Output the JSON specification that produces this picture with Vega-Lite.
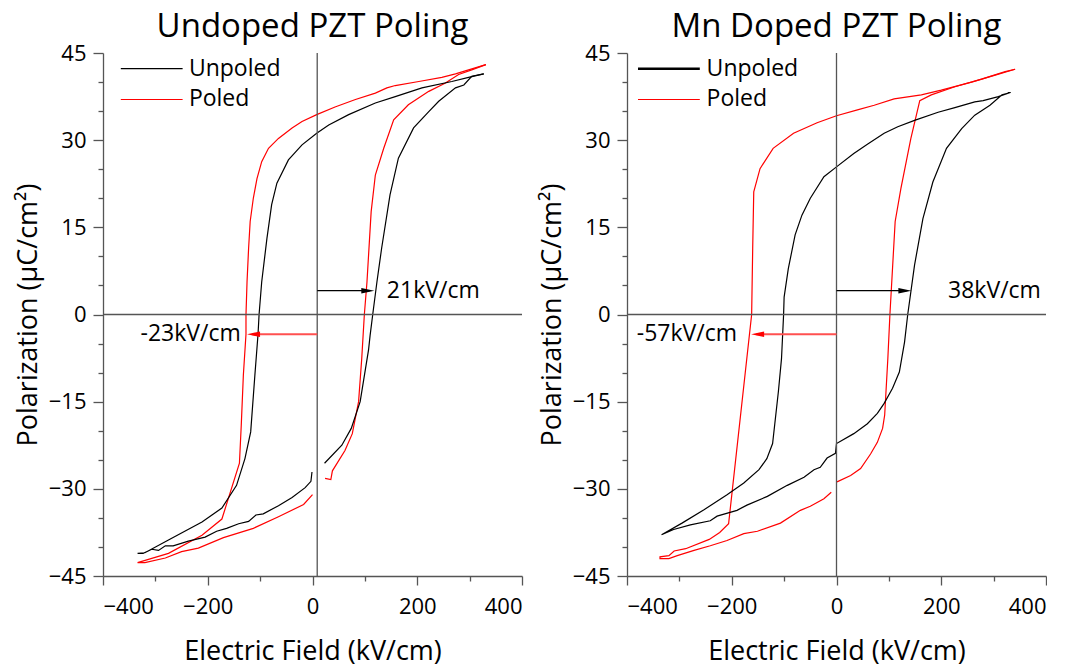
{
"$schema": "https://vega.github.io/schema/vega-lite/v6.json",
"padding": {"left": 14, "top": 11, "right": 0, "bottom": 0},
"spacing": 15,
"config": {
  "view": {"stroke": null},
  "font": "Open Sans",
  "axis": {"grid": false, "domainColor": "#555", "domainWidth": 1.3, "tickColor": "#555", "tickWidth": 1.3, "labelFont": "Open Sans", "labelFontSize": 22, "labelColor": "#000", "titleFont": "Open Sans", "titleFontSize": 27, "titleFontWeight": "normal", "titleColor": "#000", "labelOverlap": false},
  "axisX": {"labelPadding": 11, "titlePadding": 21},
  "axisY": {"labelPadding": 7, "titlePadding": 6},
  "title": {"font": "Open Sans", "fontSize": 33, "fontWeight": "normal", "color": "#000", "offset": -2}
},
"datasets": {
  "curves": [
    {"panel":"U","series":"Poled","seg":"a","o":1,"E":331,"P":43.0},
    {"panel":"U","series":"Poled","seg":"a","o":2,"E":298,"P":42.1},
    {"panel":"U","series":"Poled","seg":"a","o":3,"E":273,"P":41.4},
    {"panel":"U","series":"Poled","seg":"a","o":4,"E":247,"P":40.8},
    {"panel":"U","series":"Poled","seg":"a","o":5,"E":203,"P":40.1},
    {"panel":"U","series":"Poled","seg":"a","o":6,"E":158,"P":39.4},
    {"panel":"U","series":"Poled","seg":"a","o":7,"E":142,"P":39.0},
    {"panel":"U","series":"Poled","seg":"a","o":8,"E":120,"P":38.1},
    {"panel":"U","series":"Poled","seg":"a","o":9,"E":82,"P":37.0},
    {"panel":"U","series":"Poled","seg":"a","o":10,"E":43,"P":35.7},
    {"panel":"U","series":"Poled","seg":"a","o":11,"E":8,"P":34.4},
    {"panel":"U","series":"Poled","seg":"a","o":12,"E":-20,"P":33.2},
    {"panel":"U","series":"Poled","seg":"a","o":13,"E":-39,"P":32.1},
    {"panel":"U","series":"Poled","seg":"a","o":14,"E":-65,"P":30.3},
    {"panel":"U","series":"Poled","seg":"a","o":15,"E":-84,"P":28.6},
    {"panel":"U","series":"Poled","seg":"a","o":16,"E":-97,"P":26.3},
    {"panel":"U","series":"Poled","seg":"a","o":17,"E":-106,"P":23.4},
    {"panel":"U","series":"Poled","seg":"a","o":18,"E":-113,"P":20.0},
    {"panel":"U","series":"Poled","seg":"a","o":19,"E":-119,"P":16.0},
    {"panel":"U","series":"Poled","seg":"a","o":20,"E":-122,"P":11.4},
    {"panel":"U","series":"Poled","seg":"a","o":21,"E":-125,"P":5.6},
    {"panel":"U","series":"Poled","seg":"a","o":22,"E":-127,"P":0},
    {"panel":"U","series":"Poled","seg":"a","o":23,"E":-127,"P":-3.4},
    {"panel":"U","series":"Poled","seg":"a","o":24,"E":-132,"P":-10.4},
    {"panel":"U","series":"Poled","seg":"a","o":25,"E":-136,"P":-19},
    {"panel":"U","series":"Poled","seg":"a","o":26,"E":-139.5,"P":-25.6},
    {"panel":"U","series":"Poled","seg":"a","o":27,"E":-173,"P":-35.2},
    {"panel":"U","series":"Poled","seg":"a","o":28,"E":-211,"P":-38},
    {"panel":"U","series":"Poled","seg":"a","o":29,"E":-275,"P":-41.1},
    {"panel":"U","series":"Poled","seg":"a","o":30,"E":-334,"P":-42.7},
    {"panel":"U","series":"Poled","seg":"a","o":31,"E":-320,"P":-42.7},
    {"panel":"U","series":"Poled","seg":"a","o":32,"E":-281,"P":-41.9},
    {"panel":"U","series":"Poled","seg":"a","o":33,"E":-250,"P":-40.8},
    {"panel":"U","series":"Poled","seg":"a","o":34,"E":-218,"P":-40.2},
    {"panel":"U","series":"Poled","seg":"a","o":35,"E":-170,"P":-38.4},
    {"panel":"U","series":"Poled","seg":"a","o":36,"E":-113,"P":-36.8},
    {"panel":"U","series":"Poled","seg":"a","o":37,"E":-65,"P":-34.8},
    {"panel":"U","series":"Poled","seg":"a","o":38,"E":-17,"P":-32.7},
    {"panel":"U","series":"Poled","seg":"a","o":39,"E":0,"P":-31.0},
    {"panel":"U","series":"Poled","seg":"b","o":40,"E":24,"P":-28.2},
    {"panel":"U","series":"Poled","seg":"b","o":41,"E":35,"P":-28.4},
    {"panel":"U","series":"Poled","seg":"b","o":42,"E":38,"P":-26.9},
    {"panel":"U","series":"Poled","seg":"b","o":43,"E":62,"P":-23.4},
    {"panel":"U","series":"Poled","seg":"b","o":44,"E":76,"P":-20.5},
    {"panel":"U","series":"Poled","seg":"b","o":45,"E":88,"P":-15},
    {"panel":"U","series":"Poled","seg":"b","o":46,"E":94,"P":-7.6},
    {"panel":"U","series":"Poled","seg":"b","o":47,"E":99,"P":0},
    {"panel":"U","series":"Poled","seg":"b","o":48,"E":104,"P":5.6},
    {"panel":"U","series":"Poled","seg":"b","o":49,"E":112,"P":17.7},
    {"panel":"U","series":"Poled","seg":"b","o":50,"E":120,"P":24},
    {"panel":"U","series":"Poled","seg":"b","o":51,"E":136,"P":28.6},
    {"panel":"U","series":"Poled","seg":"b","o":52,"E":155,"P":33.5},
    {"panel":"U","series":"Poled","seg":"b","o":53,"E":183,"P":36.1},
    {"panel":"U","series":"Poled","seg":"b","o":54,"E":222,"P":38.4},
    {"panel":"U","series":"Poled","seg":"b","o":55,"E":253,"P":39.8},
    {"panel":"U","series":"Poled","seg":"b","o":56,"E":279,"P":41.3},
    {"panel":"U","series":"Poled","seg":"b","o":57,"E":304,"P":42.1},
    {"panel":"U","series":"Poled","seg":"b","o":58,"E":331,"P":43.0},

    {"panel":"U","series":"Unpoled","seg":"a","o":1,"E":327,"P":41.4},
    {"panel":"U","series":"Unpoled","seg":"a","o":2,"E":298,"P":40.8},
    {"panel":"U","series":"Unpoled","seg":"a","o":3,"E":266,"P":40.1},
    {"panel":"U","series":"Unpoled","seg":"a","o":4,"E":209,"P":39.0},
    {"panel":"U","series":"Unpoled","seg":"a","o":5,"E":158,"P":37.5},
    {"panel":"U","series":"Unpoled","seg":"a","o":6,"E":120,"P":36.4},
    {"panel":"U","series":"Unpoled","seg":"a","o":7,"E":69,"P":34.4},
    {"panel":"U","series":"Unpoled","seg":"a","o":8,"E":31,"P":32.6},
    {"panel":"U","series":"Unpoled","seg":"a","o":9,"E":8,"P":31.2},
    {"panel":"U","series":"Unpoled","seg":"a","o":10,"E":-20,"P":29.2},
    {"panel":"U","series":"Unpoled","seg":"a","o":11,"E":-46,"P":26.6},
    {"panel":"U","series":"Unpoled","seg":"a","o":12,"E":-68,"P":22.6},
    {"panel":"U","series":"Unpoled","seg":"a","o":13,"E":-78,"P":18.9},
    {"panel":"U","series":"Unpoled","seg":"a","o":14,"E":-87,"P":13.1},
    {"panel":"U","series":"Unpoled","seg":"a","o":15,"E":-97,"P":5.6},
    {"panel":"U","series":"Unpoled","seg":"a","o":16,"E":-102,"P":0},
    {"panel":"U","series":"Unpoled","seg":"a","o":17,"E":-104,"P":-3.4},
    {"panel":"U","series":"Unpoled","seg":"a","o":18,"E":-110,"P":-10.4},
    {"panel":"U","series":"Unpoled","seg":"a","o":19,"E":-118,"P":-20.2},
    {"panel":"U","series":"Unpoled","seg":"a","o":20,"E":-129,"P":-24.8},
    {"panel":"U","series":"Unpoled","seg":"a","o":21,"E":-145,"P":-29.4},
    {"panel":"U","series":"Unpoled","seg":"a","o":22,"E":-173,"P":-33.3},
    {"panel":"U","series":"Unpoled","seg":"a","o":23,"E":-211,"P":-35.7},
    {"panel":"U","series":"Unpoled","seg":"a","o":24,"E":-275,"P":-38.8},
    {"panel":"U","series":"Unpoled","seg":"a","o":25,"E":-320,"P":-41},
    {"panel":"U","series":"Unpoled","seg":"a","o":26,"E":-334,"P":-41.1},
    {"panel":"U","series":"Unpoled","seg":"a","o":27,"E":-323,"P":-41.1},
    {"panel":"U","series":"Unpoled","seg":"a","o":28,"E":-307,"P":-40.4},
    {"panel":"U","series":"Unpoled","seg":"a","o":29,"E":-294,"P":-40.6},
    {"panel":"U","series":"Unpoled","seg":"a","o":30,"E":-281,"P":-39.8},
    {"panel":"U","series":"Unpoled","seg":"a","o":31,"E":-266,"P":-39.8},
    {"panel":"U","series":"Unpoled","seg":"a","o":32,"E":-237,"P":-39},
    {"panel":"U","series":"Unpoled","seg":"a","o":33,"E":-205,"P":-38.3},
    {"panel":"U","series":"Unpoled","seg":"a","o":34,"E":-183,"P":-37.3},
    {"panel":"U","series":"Unpoled","seg":"a","o":35,"E":-164,"P":-36.8},
    {"panel":"U","series":"Unpoled","seg":"a","o":36,"E":-141,"P":-36},
    {"panel":"U","series":"Unpoled","seg":"a","o":37,"E":-122,"P":-35.6},
    {"panel":"U","series":"Unpoled","seg":"a","o":38,"E":-108,"P":-34.5},
    {"panel":"U","series":"Unpoled","seg":"a","o":39,"E":-94,"P":-34.3},
    {"panel":"U","series":"Unpoled","seg":"a","o":40,"E":-65,"P":-32.9},
    {"panel":"U","series":"Unpoled","seg":"a","o":41,"E":-39,"P":-31.5},
    {"panel":"U","series":"Unpoled","seg":"a","o":42,"E":-14,"P":-29.8},
    {"panel":"U","series":"Unpoled","seg":"a","o":43,"E":-3,"P":-28.7},
    {"panel":"U","series":"Unpoled","seg":"a","o":44,"E":-1,"P":-27.1},
    {"panel":"U","series":"Unpoled","seg":"b","o":45,"E":23,"P":-25.6},
    {"panel":"U","series":"Unpoled","seg":"b","o":46,"E":56,"P":-22.5},
    {"panel":"U","series":"Unpoled","seg":"b","o":47,"E":74,"P":-19.6},
    {"panel":"U","series":"Unpoled","seg":"b","o":48,"E":91,"P":-15},
    {"panel":"U","series":"Unpoled","seg":"b","o":49,"E":107,"P":-6.1},
    {"panel":"U","series":"Unpoled","seg":"b","o":50,"E":110,"P":-3.6},
    {"panel":"U","series":"Unpoled","seg":"b","o":51,"E":115,"P":0},
    {"panel":"U","series":"Unpoled","seg":"b","o":52,"E":123,"P":5.6},
    {"panel":"U","series":"Unpoled","seg":"b","o":53,"E":132,"P":11.4},
    {"panel":"U","series":"Unpoled","seg":"b","o":54,"E":148,"P":20.6},
    {"panel":"U","series":"Unpoled","seg":"b","o":55,"E":164,"P":26.9},
    {"panel":"U","series":"Unpoled","seg":"b","o":56,"E":193,"P":32.1},
    {"panel":"U","series":"Unpoled","seg":"b","o":57,"E":222,"P":34.9},
    {"panel":"U","series":"Unpoled","seg":"b","o":58,"E":241,"P":36.7},
    {"panel":"U","series":"Unpoled","seg":"b","o":59,"E":273,"P":39},
    {"panel":"U","series":"Unpoled","seg":"b","o":60,"E":289,"P":39.5},
    {"panel":"U","series":"Unpoled","seg":"b","o":61,"E":304,"P":41},
    {"panel":"U","series":"Unpoled","seg":"b","o":62,"E":327,"P":41.4},

    {"panel":"M","series":"Poled","seg":"a","o":1,"E":341,"P":42.2},
    {"panel":"M","series":"Poled","seg":"a","o":2,"E":303,"P":41.2},
    {"panel":"M","series":"Poled","seg":"a","o":3,"E":258,"P":40.0},
    {"panel":"M","series":"Poled","seg":"a","o":4,"E":200,"P":38.6},
    {"panel":"M","series":"Poled","seg":"a","o":5,"E":162,"P":37.8},
    {"panel":"M","series":"Poled","seg":"a","o":6,"E":110,"P":37.1},
    {"panel":"M","series":"Poled","seg":"a","o":7,"E":72,"P":36.0},
    {"panel":"M","series":"Poled","seg":"a","o":8,"E":40,"P":35.2},
    {"panel":"M","series":"Poled","seg":"a","o":9,"E":0,"P":34.2},
    {"panel":"M","series":"Poled","seg":"a","o":10,"E":-37,"P":33.0},
    {"panel":"M","series":"Poled","seg":"a","o":11,"E":-82,"P":31.2},
    {"panel":"M","series":"Poled","seg":"a","o":12,"E":-121,"P":28.6},
    {"panel":"M","series":"Poled","seg":"a","o":13,"E":-146,"P":25.1},
    {"panel":"M","series":"Poled","seg":"a","o":14,"E":-158,"P":21.1},
    {"panel":"M","series":"Poled","seg":"a","o":15,"E":-160,"P":11.4},
    {"panel":"M","series":"Poled","seg":"a","o":16,"E":-162,"P":0},
    {"panel":"M","series":"Poled","seg":"a","o":17,"E":-206,"P":-36},
    {"panel":"M","series":"Poled","seg":"a","o":18,"E":-223,"P":-37.5},
    {"panel":"M","series":"Poled","seg":"a","o":19,"E":-243,"P":-38.7},
    {"panel":"M","series":"Poled","seg":"a","o":20,"E":-288,"P":-40.3},
    {"panel":"M","series":"Poled","seg":"a","o":21,"E":-310,"P":-40.7},
    {"panel":"M","series":"Poled","seg":"a","o":22,"E":-320,"P":-41.5},
    {"panel":"M","series":"Poled","seg":"a","o":23,"E":-337,"P":-41.7},
    {"panel":"M","series":"Poled","seg":"a","o":24,"E":-337,"P":-42},
    {"panel":"M","series":"Poled","seg":"a","o":25,"E":-320,"P":-42},
    {"panel":"M","series":"Poled","seg":"a","o":26,"E":-304,"P":-41.5},
    {"panel":"M","series":"Poled","seg":"a","o":27,"E":-272,"P":-40.6},
    {"panel":"M","series":"Poled","seg":"a","o":28,"E":-241,"P":-39.8},
    {"panel":"M","series":"Poled","seg":"a","o":29,"E":-209,"P":-38.9},
    {"panel":"M","series":"Poled","seg":"a","o":30,"E":-177,"P":-37.7},
    {"panel":"M","series":"Poled","seg":"a","o":31,"E":-151,"P":-37.3},
    {"panel":"M","series":"Poled","seg":"a","o":32,"E":-107,"P":-35.9},
    {"panel":"M","series":"Poled","seg":"a","o":33,"E":-69,"P":-33.7},
    {"panel":"M","series":"Poled","seg":"a","o":34,"E":-50,"P":-33.0},
    {"panel":"M","series":"Poled","seg":"a","o":35,"E":-24,"P":-31.7},
    {"panel":"M","series":"Poled","seg":"a","o":36,"E":-10,"P":-30.6},
    {"panel":"M","series":"Poled","seg":"b","o":37,"E":1,"P":-28.8},
    {"panel":"M","series":"Poled","seg":"b","o":38,"E":27,"P":-27.7},
    {"panel":"M","series":"Poled","seg":"b","o":39,"E":46,"P":-26.5},
    {"panel":"M","series":"Poled","seg":"b","o":40,"E":65,"P":-24},
    {"panel":"M","series":"Poled","seg":"b","o":41,"E":78,"P":-22},
    {"panel":"M","series":"Poled","seg":"b","o":42,"E":88,"P":-19.6},
    {"panel":"M","series":"Poled","seg":"b","o":43,"E":92,"P":-17.3},
    {"panel":"M","series":"Poled","seg":"b","o":44,"E":98,"P":-7.6},
    {"panel":"M","series":"Poled","seg":"b","o":45,"E":102,"P":0},
    {"panel":"M","series":"Poled","seg":"b","o":46,"E":112,"P":16},
    {"panel":"M","series":"Poled","seg":"b","o":47,"E":123,"P":21.7},
    {"panel":"M","series":"Poled","seg":"b","o":48,"E":142,"P":30.3},
    {"panel":"M","series":"Poled","seg":"b","o":49,"E":159,"P":36.8},
    {"panel":"M","series":"Poled","seg":"b","o":50,"E":181,"P":37.8},
    {"panel":"M","series":"Poled","seg":"b","o":51,"E":226,"P":39.2},
    {"panel":"M","series":"Poled","seg":"b","o":52,"E":277,"P":40.5},
    {"panel":"M","series":"Poled","seg":"b","o":53,"E":322,"P":41.8},
    {"panel":"M","series":"Poled","seg":"b","o":54,"E":341,"P":42.2},

    {"panel":"M","series":"Unpoled","seg":"a","o":1,"E":332,"P":38.2},
    {"panel":"M","series":"Unpoled","seg":"a","o":2,"E":309,"P":37.5},
    {"panel":"M","series":"Unpoled","seg":"a","o":3,"E":280,"P":36.8},
    {"panel":"M","series":"Unpoled","seg":"a","o":4,"E":264,"P":36.6},
    {"panel":"M","series":"Unpoled","seg":"a","o":5,"E":226,"P":35.6},
    {"panel":"M","series":"Unpoled","seg":"a","o":6,"E":194,"P":34.8},
    {"panel":"M","series":"Unpoled","seg":"a","o":7,"E":149,"P":33.4},
    {"panel":"M","series":"Unpoled","seg":"a","o":8,"E":117,"P":32.3},
    {"panel":"M","series":"Unpoled","seg":"a","o":9,"E":91,"P":31.2},
    {"panel":"M","series":"Unpoled","seg":"a","o":10,"E":59,"P":29.3},
    {"panel":"M","series":"Unpoled","seg":"a","o":11,"E":33,"P":27.7},
    {"panel":"M","series":"Unpoled","seg":"a","o":12,"E":0,"P":25.4},
    {"panel":"M","series":"Unpoled","seg":"a","o":13,"E":-24,"P":23.7},
    {"panel":"M","series":"Unpoled","seg":"a","o":14,"E":-50,"P":20},
    {"panel":"M","series":"Unpoled","seg":"a","o":15,"E":-66,"P":17.1},
    {"panel":"M","series":"Unpoled","seg":"a","o":16,"E":-79,"P":13.7},
    {"panel":"M","series":"Unpoled","seg":"a","o":17,"E":-92,"P":7.9},
    {"panel":"M","series":"Unpoled","seg":"a","o":18,"E":-100,"P":3},
    {"panel":"M","series":"Unpoled","seg":"a","o":19,"E":-101,"P":0},
    {"panel":"M","series":"Unpoled","seg":"a","o":20,"E":-105,"P":-7.6},
    {"panel":"M","series":"Unpoled","seg":"a","o":21,"E":-111,"P":-13.3},
    {"panel":"M","series":"Unpoled","seg":"a","o":22,"E":-122,"P":-22.2},
    {"panel":"M","series":"Unpoled","seg":"a","o":23,"E":-133,"P":-24.8},
    {"panel":"M","series":"Unpoled","seg":"a","o":24,"E":-148,"P":-26.7},
    {"panel":"M","series":"Unpoled","seg":"a","o":25,"E":-177,"P":-29},
    {"panel":"M","series":"Unpoled","seg":"a","o":26,"E":-209,"P":-31},
    {"panel":"M","series":"Unpoled","seg":"a","o":27,"E":-253,"P":-33.6},
    {"panel":"M","series":"Unpoled","seg":"a","o":28,"E":-295,"P":-35.9},
    {"panel":"M","series":"Unpoled","seg":"a","o":29,"E":-334,"P":-37.9},
    {"panel":"M","series":"Unpoled","seg":"a","o":30,"E":-311,"P":-37},
    {"panel":"M","series":"Unpoled","seg":"a","o":31,"E":-279,"P":-36.2},
    {"panel":"M","series":"Unpoled","seg":"a","o":32,"E":-241,"P":-35.5},
    {"panel":"M","series":"Unpoled","seg":"a","o":33,"E":-228,"P":-34.7},
    {"panel":"M","series":"Unpoled","seg":"a","o":34,"E":-190,"P":-33.7},
    {"panel":"M","series":"Unpoled","seg":"a","o":35,"E":-171,"P":-32.8},
    {"panel":"M","series":"Unpoled","seg":"a","o":36,"E":-132,"P":-31.3},
    {"panel":"M","series":"Unpoled","seg":"a","o":37,"E":-94,"P":-29.4},
    {"panel":"M","series":"Unpoled","seg":"a","o":38,"E":-62,"P":-28},
    {"panel":"M","series":"Unpoled","seg":"a","o":39,"E":-43,"P":-26.7},
    {"panel":"M","series":"Unpoled","seg":"a","o":40,"E":-31,"P":-26.3},
    {"panel":"M","series":"Unpoled","seg":"a","o":41,"E":-18,"P":-24.7},
    {"panel":"M","series":"Unpoled","seg":"a","o":42,"E":-2,"P":-23.9},
    {"panel":"M","series":"Unpoled","seg":"a","o":43,"E":0,"P":-22.2},
    {"panel":"M","series":"Unpoled","seg":"a","o":44,"E":33,"P":-20.5},
    {"panel":"M","series":"Unpoled","seg":"a","o":45,"E":59,"P":-18.8},
    {"panel":"M","series":"Unpoled","seg":"a","o":46,"E":78,"P":-17.0},
    {"panel":"M","series":"Unpoled","seg":"a","o":47,"E":91,"P":-15.3},
    {"panel":"M","series":"Unpoled","seg":"a","o":48,"E":107,"P":-12.7},
    {"panel":"M","series":"Unpoled","seg":"a","o":49,"E":120,"P":-9.9},
    {"panel":"M","series":"Unpoled","seg":"a","o":50,"E":130,"P":-4.7},
    {"panel":"M","series":"Unpoled","seg":"a","o":51,"E":136,"P":0},
    {"panel":"M","series":"Unpoled","seg":"a","o":52,"E":149,"P":8.5},
    {"panel":"M","series":"Unpoled","seg":"a","o":53,"E":165,"P":16.5},
    {"panel":"M","series":"Unpoled","seg":"a","o":54,"E":184,"P":22.8},
    {"panel":"M","series":"Unpoled","seg":"a","o":55,"E":210,"P":28.6},
    {"panel":"M","series":"Unpoled","seg":"a","o":56,"E":239,"P":32.0},
    {"panel":"M","series":"Unpoled","seg":"a","o":57,"E":264,"P":34.3},
    {"panel":"M","series":"Unpoled","seg":"a","o":58,"E":293,"P":36.0},
    {"panel":"M","series":"Unpoled","seg":"a","o":59,"E":316,"P":37.8},
    {"panel":"M","series":"Unpoled","seg":"a","o":60,"E":332,"P":38.2}
  ],
  "refs": [
    {"panel":"U","E":9,"P":0},
    {"panel":"M","E":0,"P":0}
  ],
  "arrows": [
    {"panel":"U","c":"#000000","w":1.3,"E":9,"E2":110,"P":4.1,"tip":118,"dir":"R"},
    {"panel":"U","c":"#ff5050","w":2,"E":9,"E2":-115,"P":-3.4,"tip":-125,"dir":"L"},
    {"panel":"M","c":"#000000","w":1.3,"E":0,"E2":135,"P":4.1,"tip":143,"dir":"R"},
    {"panel":"M","c":"#ff5050","w":2,"E":0,"E2":-153,"P":-3.4,"tip":-163,"dir":"L"}
  ],
  "labels": [
    {"panel":"U","E":142,"P":4.1,"align":"L","text":"21kV/cm"},
    {"panel":"U","E":-137,"P":-3.4,"align":"R","text":"-23kV/cm"},
    {"panel":"U","E":-236,"P":42.3,"align":"L","text":"Unpoled"},
    {"panel":"U","E":-236,"P":37.1,"align":"L","text":"Poled"},
    {"panel":"M","E":213,"P":4.1,"align":"L","text":"38kV/cm"},
    {"panel":"M","E":-190,"P":-3.4,"align":"R","text":"-57kV/cm"},
    {"panel":"M","E":-248,"P":42.3,"align":"L","text":"Unpoled"},
    {"panel":"M","E":-248,"P":37.1,"align":"L","text":"Poled"}
  ],
  "legend": [
    {"panel":"U","series":"Unpoled","w":1.2,"E":-366,"E2":-248,"P":42.3},
    {"panel":"U","series":"Poled","w":1.2,"E":-366,"E2":-248,"P":37.0},
    {"panel":"M","series":"Unpoled","w":2.6,"E":-379,"E2":-261,"P":42.3},
    {"panel":"M","series":"Poled","w":1.2,"E":-379,"E2":-261,"P":37.0}
  ]
},
"hconcat": [
  {
    "title": {"text": "Undoped PZT Poling"},
    "width": 419, "height": 523,
    "resolve": {"axis": {"x": "independent", "y": "independent"}},
    "layer": [
      {
        "data": {"name": "curves"},
        "transform": [{"filter": "datum.panel === 'U'"}],
        "mark": {"type": "line", "strokeWidth": 1.2},
        "encoding": {
          "x": {"field": "E", "type": "quantitative", "scale": {"domain": [-400, 400], "nice": false, "zero": false},
                "axis": {"title": "Electric Field (kV/cm)", "orient": "bottom", "values": [-400,-200,0,200,400], "tickSize": 9}},
          "y": {"field": "P", "type": "quantitative", "scale": {"domain": [-45, 45], "nice": false, "zero": false},
                "axis": {"title": "Polarization (μC/cm²)", "orient": "left", "values": [-45,-30,-15,0,15,30,45], "tickSize": 10}},
          "color": {"field": "series", "type": "nominal", "scale": {"domain": ["Unpoled", "Poled"], "range": ["#000000", "#ff0000"]}, "legend": null},
          "detail": {"field": "seg"},
          "order": {"field": "o", "type": "quantitative"}
        }
      },
      {
        "data": {"name": "refs"},
        "transform": [{"filter": "datum.panel === 'U'"}],
        "mark": {"type": "rule", "color": "#555", "strokeWidth": 1.3},
        "encoding": {"x": {"field": "E", "type": "quantitative", "axis": {"title": null, "orient": "bottom", "labels": false, "domain": false, "values": [-300,-100,100,300], "tickSize": 5}}}
      },
      {
        "data": {"name": "refs"},
        "transform": [{"filter": "datum.panel === 'U'"}],
        "mark": {"type": "rule", "color": "#555", "strokeWidth": 1.3},
        "encoding": {"y": {"field": "P", "type": "quantitative", "axis": {"title": null, "orient": "left", "labels": false, "domain": false, "values": [-40,-35,-25,-20,-10,-5,5,10,20,25,35,40], "tickSize": 5}}}
      },
      {
        "data": {"name": "arrows"},
        "transform": [{"filter": "datum.panel === 'U'"}],
        "mark": {"type": "rule"},
        "encoding": {
          "x": {"field": "E", "type": "quantitative", "axis": null}, "x2": {"field": "E2"},
          "y": {"field": "P", "type": "quantitative", "axis": null},
          "color": {"field": "c", "type": "nominal", "scale": null},
          "strokeWidth": {"field": "w", "type": "quantitative", "scale": null}
        }
      },
      {
        "data": {"name": "arrows"},
        "transform": [{"filter": "datum.panel === 'U' && datum.dir === 'R'"}],
        "mark": {"type": "point", "shape": "M-2,-0.42L0,0L-2,0.42Z", "filled": true, "size": 169, "color": "#000", "opacity": 1},
        "encoding": {"x": {"field": "tip", "type": "quantitative", "axis": null}, "y": {"field": "P", "type": "quantitative", "axis": null}}
      },
      {
        "data": {"name": "arrows"},
        "transform": [{"filter": "datum.panel === 'U' && datum.dir === 'L'"}],
        "mark": {"type": "point", "shape": "M2,-0.42L0,0L2,0.42Z", "filled": true, "size": 169, "color": "#ff0000", "opacity": 1},
        "encoding": {"x": {"field": "tip", "type": "quantitative", "axis": null}, "y": {"field": "P", "type": "quantitative", "axis": null}}
      },
      {
        "data": {"name": "legend"},
        "transform": [{"filter": "datum.panel === 'U'"}],
        "mark": {"type": "rule"},
        "encoding": {
          "x": {"field": "E", "type": "quantitative", "axis": null}, "x2": {"field": "E2"},
          "y": {"field": "P", "type": "quantitative", "axis": null},
          "color": {"field": "series", "type": "nominal", "legend": null},
          "strokeWidth": {"field": "w", "type": "quantitative", "scale": null}
        }
      },
      {
        "data": {"name": "labels"},
        "transform": [{"filter": "datum.panel === 'U' && datum.align === 'L'"}],
        "mark": {"type": "text", "align": "left", "baseline": "middle", "fontSize": 23, "font": "Open Sans", "color": "#000"},
        "encoding": {"x": {"field": "E", "type": "quantitative", "axis": null}, "y": {"field": "P", "type": "quantitative", "axis": null}, "text": {"field": "text"}}
      },
      {
        "data": {"name": "labels"},
        "transform": [{"filter": "datum.panel === 'U' && datum.align === 'R'"}],
        "mark": {"type": "text", "align": "right", "baseline": "middle", "fontSize": 23, "font": "Open Sans", "color": "#000"},
        "encoding": {"x": {"field": "E", "type": "quantitative", "axis": null}, "y": {"field": "P", "type": "quantitative", "axis": null}, "text": {"field": "text"}}
      }
    ]
  },
  {
    "title": {"text": "Mn Doped PZT Poling"},
    "width": 419, "height": 523,
    "resolve": {"axis": {"x": "independent", "y": "independent"}},
    "layer": [
      {
        "data": {"name": "curves"},
        "transform": [{"filter": "datum.panel === 'M'"}],
        "mark": {"type": "line", "strokeWidth": 1.2},
        "encoding": {
          "x": {"field": "E", "type": "quantitative", "scale": {"domain": [-400, 400], "nice": false, "zero": false},
                "axis": {"title": "Electric Field (kV/cm)", "orient": "bottom", "values": [-400,-200,0,200,400], "tickSize": 9}},
          "y": {"field": "P", "type": "quantitative", "scale": {"domain": [-45, 45], "nice": false, "zero": false},
                "axis": {"title": "Polarization (μC/cm²)", "orient": "left", "values": [-45,-30,-15,0,15,30,45], "tickSize": 10}},
          "color": {"field": "series", "type": "nominal", "scale": {"domain": ["Unpoled", "Poled"], "range": ["#000000", "#ff0000"]}, "legend": null},
          "detail": {"field": "seg"},
          "order": {"field": "o", "type": "quantitative"}
        }
      },
      {
        "data": {"name": "refs"},
        "transform": [{"filter": "datum.panel === 'M'"}],
        "mark": {"type": "rule", "color": "#555", "strokeWidth": 1.3},
        "encoding": {"x": {"field": "E", "type": "quantitative", "axis": {"title": null, "orient": "bottom", "labels": false, "domain": false, "values": [-300,-100,100,300], "tickSize": 5}}}
      },
      {
        "data": {"name": "refs"},
        "transform": [{"filter": "datum.panel === 'M'"}],
        "mark": {"type": "rule", "color": "#555", "strokeWidth": 1.3},
        "encoding": {"y": {"field": "P", "type": "quantitative", "axis": {"title": null, "orient": "left", "labels": false, "domain": false, "values": [-40,-35,-25,-20,-10,-5,5,10,20,25,35,40], "tickSize": 5}}}
      },
      {
        "data": {"name": "arrows"},
        "transform": [{"filter": "datum.panel === 'M'"}],
        "mark": {"type": "rule"},
        "encoding": {
          "x": {"field": "E", "type": "quantitative", "axis": null}, "x2": {"field": "E2"},
          "y": {"field": "P", "type": "quantitative", "axis": null},
          "color": {"field": "c", "type": "nominal", "scale": null},
          "strokeWidth": {"field": "w", "type": "quantitative", "scale": null}
        }
      },
      {
        "data": {"name": "arrows"},
        "transform": [{"filter": "datum.panel === 'M' && datum.dir === 'R'"}],
        "mark": {"type": "point", "shape": "M-2,-0.42L0,0L-2,0.42Z", "filled": true, "size": 169, "color": "#000", "opacity": 1},
        "encoding": {"x": {"field": "tip", "type": "quantitative", "axis": null}, "y": {"field": "P", "type": "quantitative", "axis": null}}
      },
      {
        "data": {"name": "arrows"},
        "transform": [{"filter": "datum.panel === 'M' && datum.dir === 'L'"}],
        "mark": {"type": "point", "shape": "M2,-0.42L0,0L2,0.42Z", "filled": true, "size": 169, "color": "#ff0000", "opacity": 1},
        "encoding": {"x": {"field": "tip", "type": "quantitative", "axis": null}, "y": {"field": "P", "type": "quantitative", "axis": null}}
      },
      {
        "data": {"name": "legend"},
        "transform": [{"filter": "datum.panel === 'M'"}],
        "mark": {"type": "rule"},
        "encoding": {
          "x": {"field": "E", "type": "quantitative", "axis": null}, "x2": {"field": "E2"},
          "y": {"field": "P", "type": "quantitative", "axis": null},
          "color": {"field": "series", "type": "nominal", "legend": null},
          "strokeWidth": {"field": "w", "type": "quantitative", "scale": null}
        }
      },
      {
        "data": {"name": "labels"},
        "transform": [{"filter": "datum.panel === 'M' && datum.align === 'L'"}],
        "mark": {"type": "text", "align": "left", "baseline": "middle", "fontSize": 23, "font": "Open Sans", "color": "#000"},
        "encoding": {"x": {"field": "E", "type": "quantitative", "axis": null}, "y": {"field": "P", "type": "quantitative", "axis": null}, "text": {"field": "text"}}
      },
      {
        "data": {"name": "labels"},
        "transform": [{"filter": "datum.panel === 'M' && datum.align === 'R'"}],
        "mark": {"type": "text", "align": "right", "baseline": "middle", "fontSize": 23, "font": "Open Sans", "color": "#000"},
        "encoding": {"x": {"field": "E", "type": "quantitative", "axis": null}, "y": {"field": "P", "type": "quantitative", "axis": null}, "text": {"field": "text"}}
      }
    ]
  }
]
}
